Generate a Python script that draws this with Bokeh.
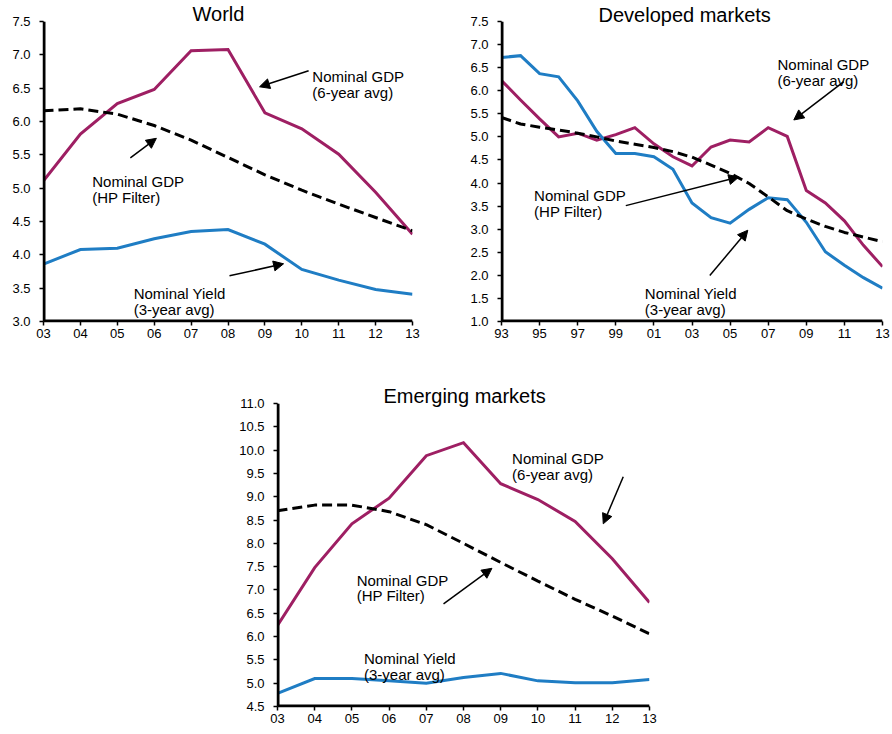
from bokeh.plotting import figure
from bokeh.models import (Range1d, FixedTicker, Label, Arrow, NormalHead, Spacer,
                          NumeralTickFormatter, LinearAxis, Title)
from bokeh.layouts import row, column
from bokeh.embed import file_html
from bokeh.resources import INLINE

FONT = "Liberation Sans"
MAGENTA = "#9E1F63"
BLUE = "#1F7DC4"

# ---------------- data ----------------
world_years = [2003, 2004, 2005, 2006, 2007, 2008, 2009, 2010, 2011, 2012, 2013]
world_tick_labels = ["03", "04", "05", "06", "07", "08", "09", "10", "11", "12", "13"]
world_gdp6 = [5.11, 5.81, 6.27, 6.48, 7.06, 7.08, 6.13, 5.89, 5.51, 4.94, 4.31]
world_hp = [6.16, 6.19, 6.11, 5.94, 5.72, 5.46, 5.20, 4.97, 4.76, 4.56, 4.36]
world_yield = [3.86, 4.08, 4.10, 4.24, 4.35, 4.38, 4.16, 3.78, 3.62, 3.48, 3.41]
world_y_ticks = [3.0, 3.5, 4.0, 4.5, 5.0, 5.5, 6.0, 6.5, 7.0, 7.5]

dev_years = [1993, 1994, 1995, 1996, 1997, 1998, 1999, 2000, 2001, 2002, 2003,
             2004, 2005, 2006, 2007, 2008, 2009, 2010, 2011, 2012, 2013]
dev_tick_years = [1993, 1995, 1997, 1999, 2001, 2003, 2005, 2007, 2009, 2011, 2013]
dev_tick_labels = ["93", "95", "97", "99", "01", "03", "05", "07", "09", "11", "13"]
dev_gdp6 = [6.22, 5.80, 5.39, 5.00, 5.08, 4.93, 5.05, 5.20, 4.85, 4.57, 4.37,
            4.78, 4.93, 4.89, 5.20, 5.01, 3.84, 3.57, 3.18, 2.65, 2.19]
dev_hp = [5.42, 5.28, 5.21, 5.15, 5.08, 5.00, 4.91, 4.84, 4.77, 4.68, 4.56,
          4.39, 4.21, 3.99, 3.70, 3.40, 3.22, 3.06, 2.93, 2.83, 2.73]
dev_yield = [6.72, 6.76, 6.37, 6.30, 5.78, 5.12, 4.64, 4.64, 4.57, 4.30, 3.57,
             3.25, 3.13, 3.43, 3.68, 3.64, 3.15, 2.51, 2.22, 1.95, 1.72]
dev_y_ticks = [1.0, 1.5, 2.0, 2.5, 3.0, 3.5, 4.0, 4.5, 5.0, 5.5, 6.0, 6.5, 7.0, 7.5]

em_years = [2003, 2004, 2005, 2006, 2007, 2008, 2009, 2010, 2011, 2012, 2013]
em_tick_labels = ["03", "04", "05", "06", "07", "08", "09", "10", "11", "12", "13"]
em_gdp6 = [6.24, 7.48, 8.42, 8.97, 9.88, 10.16, 9.28, 8.94, 8.47, 7.67, 6.73]
em_hp = [8.70, 8.82, 8.82, 8.68, 8.40, 8.00, 7.59, 7.19, 6.80, 6.44, 6.06]
em_yield = [4.78, 5.10, 5.10, 5.05, 5.00, 5.12, 5.21, 5.05, 5.01, 5.01, 5.08]
em_y_ticks = [4.5, 5.0, 5.5, 6.0, 6.5, 7.0, 7.5, 8.0, 8.5, 9.0, 9.5, 10.0, 10.5, 11.0]


def converter(x0p, x1p, xa, xb, ytp, ybp, yt, yb):
    def fx(px):
        return xa + (px - x0p) / (x1p - x0p) * (xb - xa)

    def fy(py):
        return yt - (py - ytp) / (ybp - ytp) * (yt - yb)
    return fx, fy


def style_axis(ax, standoff):
    ax.level = "overlay"
    ax.axis_line_color = "black"
    ax.axis_line_width = 1.5
    ax.major_tick_line_color = "black"
    ax.major_tick_line_width = 1.5
    ax.major_tick_out = 4
    ax.major_tick_in = 0
    ax.minor_tick_out = 0
    ax.minor_tick_in = 0
    ax.major_label_text_font = FONT
    ax.major_label_text_font_size = "13px"
    ax.major_label_text_color = "black"
    ax.major_label_standoff = standoff


def make_panel(width, height, borders, xr, yr, years, tick_years, tick_labels,
               y_ticks, gdp6, hp, yld, title, title_offset, title_standoff):
    bl, br, bt, bb = borders
    p = figure(width=width, height=height, x_range=Range1d(*xr), y_range=Range1d(*yr),
               output_backend="svg", toolbar_location=None,
               x_axis_location=None, y_axis_location=None,
               min_border_left=bl, min_border_right=br, min_border_top=bt, min_border_bottom=bb)
    p.title = Title(text=title, align="left", offset=title_offset, standoff=title_standoff,
                    text_font=FONT, text_font_size="20px", text_font_style="normal",
                    text_color="black")
    p.outline_line_color = None
    p.grid.visible = False
    xa = LinearAxis(ticker=FixedTicker(ticks=tick_years),
                    major_label_overrides={y: l for y, l in zip(tick_years, tick_labels)})
    style_axis(xa, 3)
    ya = LinearAxis(ticker=FixedTicker(ticks=y_ticks), formatter=NumeralTickFormatter(format="0.0"))
    style_axis(ya, 9)
    p.add_layout(xa, "below")
    p.add_layout(ya, "left")
    p.line(years, gdp6, line_color=MAGENTA, line_width=3, line_join="miter")
    p.line(years, yld, line_color=BLUE, line_width=3, line_join="miter")
    p.line(years, hp, line_color="black", line_width=3, line_dash="10 5")
    # axis rules along the frame's left and bottom edges (taken from the ranges)
    p.line([xr[0], xr[0]], [yr[0], yr[1]], line_color="black", line_width=4)
    p.line([xr[0], xr[1]], [yr[0], yr[0]], line_color="black", line_width=4)
    return p


def add_note(p, fx, fy, lines, lx, baselines):
    for t, b in zip(lines, baselines):
        p.add_layout(Label(x=fx(lx), y=fy(b), text=t, text_font=FONT, text_font_size="15px",
                           text_align="left", text_baseline="alphabetic", text_color="black"))


def add_arrow(p, fx, fy, tail, tip):
    p.add_layout(Arrow(end=NormalHead(size=10, fill_color="black", line_color="black", line_width=1),
                       x_start=fx(tail[0]), y_start=fy(tail[1]),
                       x_end=fx(tip[0]), y_end=fy(tip[1]),
                       line_color="black", line_width=1.5))


# ---------------- World ----------------
p1 = make_panel(440, 350, (43, 28, 21, 29), (2003, 2013), (3.0, 7.5),
                world_years, world_years, world_tick_labels, world_y_ticks,
                world_gdp6, world_hp, world_yield, "World", 149, -6)
fx, fy = converter(43.3, 411.7, 2003, 2013, 20.7, 320.7, 7.5, 3.0)
add_note(p1, fx, fy, ["Nominal GDP", "(6-year avg)"], 311.7, [76.0, 91.5])
add_arrow(p1, fx, fy, (308, 70), (259, 86))
add_note(p1, fx, fy, ["Nominal GDP", "(HP Filter)"], 92, [181.0, 197.0])
add_arrow(p1, fx, fy, (130, 157), (156, 137.5))
add_note(p1, fx, fy, ["Nominal Yield", "(3-year avg)"], 133.3, [292.7, 308.3])
add_arrow(p1, fx, fy, (229, 275), (283, 263))

# ---------------- Developed ----------------
p2 = make_panel(450, 350, (61, 8, 16, 29), (1993, 2013), (1.0, 7.5),
                dev_years, dev_tick_years, dev_tick_labels, dev_y_ticks,
                dev_gdp6, dev_hp, dev_yield, "Developed markets", 97, -8)
fx, fy = converter(500.7, 881.7, 1993, 2013, 16.0, 320.7, 7.5, 1.0)
add_note(p2, fx, fy, ["Nominal GDP", "(6-year avg)"], 776.7, [59.3, 75.5])
add_arrow(p2, fx, fy, (843, 77), (793, 116))
add_note(p2, fx, fy, ["Nominal GDP", "(HP Filter)"], 533.3, [192.3, 208.5])
add_arrow(p2, fx, fy, (625, 203), (738, 174))
add_note(p2, fx, fy, ["Nominal Yield", "(3-year avg)"], 644, [292.3, 308.3])
add_arrow(p2, fx, fy, (709, 274), (747, 228))

# ---------------- Emerging ----------------
p3 = make_panel(440, 383, (52, 16, 53, 27), (2003, 2013), (4.5, 11.0),
                em_years, em_years, em_tick_labels, em_y_ticks,
                em_gdp6, em_hp, em_yield, "Emerging markets", 106, -7)
fx, fy = converter(276.7, 649.3, 2003, 2013, 402.7, 705.7, 11.0, 4.5)
add_note(p3, fx, fy, ["Nominal GDP", "(6-year avg)"], 511.7, [457.3, 473.3])
add_arrow(p3, fx, fy, (623, 476), (603, 523))
add_note(p3, fx, fy, ["Nominal GDP", "(HP Filter)"], 356, [579.3, 595.0])
add_arrow(p3, fx, fy, (443, 603), (491.5, 567.5))
add_note(p3, fx, fy, ["Nominal Yield", "(3-year avg)"], 363.3, [657.3, 673.3])

layout = column(row(p1, p2), row(Spacer(width=225, height=383), p3))

open("out.html", "w").write(file_html(layout, INLINE))
